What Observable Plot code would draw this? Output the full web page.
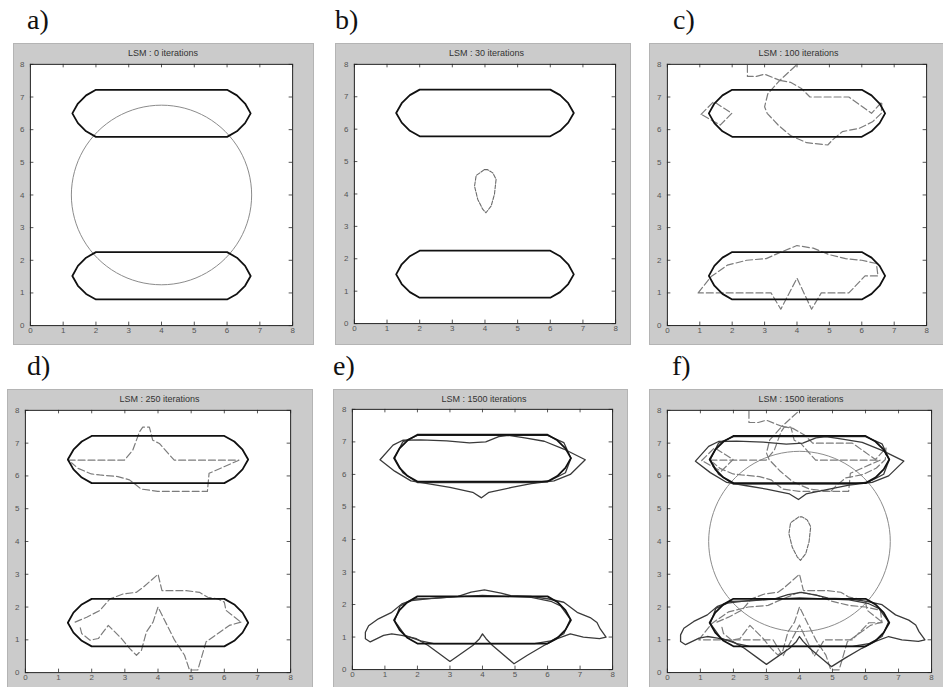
<!DOCTYPE html>
<html>
<head>
<meta charset="utf-8">
<script src="https://cdn.jsdelivr.net/npm/d3@7"></script>
<script src="https://cdn.jsdelivr.net/npm/@observablehq/plot@0.6"></script>
<style>
  body { margin: 0; background: #fff; }
  #fig { position: relative; width: 943px; height: 687px; overflow: hidden; background: #fff;
         font-family: "Liberation Sans", Arial, sans-serif; }
  .box { position: absolute; background: #cbcbcb; border: 1px solid #b4b4b4; box-sizing: border-box; }
  .box svg { position: absolute; left: -1px; top: -1px; }
  .title { position: absolute; font-size: 9px; line-height: 10px; color: #333; white-space: nowrap;
           transform: translateX(-50%); }
  .letter { position: absolute; font-family: "Liberation Serif", "Times New Roman", serif;
            font-size: 28px; line-height: 28px; color: #111; }
</style>
</head>
<body>
<div id="fig"></div>
<script>
// Panel letters and titles
const letters = ["a)", "b)", "c)", "d)", "e)", "f)"];
const titles = [
  "LSM : 0 iterations", "LSM : 30 iterations", "LSM : 100 iterations",
  "LSM : 250 iterations", "LSM : 1500 iterations", "LSM : 1500 iterations"
];
const axisTicks = [0, 1, 2, 3, 4, 5, 6, 7, 8];

// Target shapes: two capsules (x, y vertices)
const capsuleTop = [[2,7.22],[6,7.22],[6.3,7.05],[6.55,6.8],[6.72,6.5],[6.55,6.2],[6.3,5.95],[6,5.78],
  [2,5.78],[1.7,5.95],[1.45,6.2],[1.28,6.5],[1.45,6.8],[1.7,7.05],[2,7.22]];
const capsuleBottom = [[2,2.25],[6,2.25],[6.3,2.08],[6.55,1.83],[6.72,1.52],[6.55,1.22],[6.3,0.97],[6,0.8],
  [2,0.8],[1.7,0.97],[1.45,1.22],[1.28,1.52],[1.45,1.83],[1.7,2.08],[2,2.25]];

// Initial level set: circle around (4, 4)
const initialCircle = [[6.75,4],[6.656,4.712],[6.382,5.375],[5.945,5.945],[5.375,6.382],[4.712,6.656],
  [4,6.75],[3.288,6.656],[2.625,6.382],[2.055,5.945],[1.618,5.375],[1.344,4.712],[1.25,4],[1.344,3.288],
  [1.618,2.625],[2.055,2.055],[2.625,1.618],[3.288,1.344],[4,1.25],[4.712,1.344],[5.375,1.618],
  [5.945,2.055],[6.382,2.625],[6.656,3.288]];

// After 30 iterations
const blob30 = [[3.98,4.75],[3.73,4.57],[3.68,4.24],[3.78,3.83],[3.93,3.53],[4.03,3.42],[4.19,3.63],
  [4.29,3.99],[4.34,4.45],[4.24,4.65],[4.08,4.75],[3.98,4.75]];

// After 100 iterations
const c100TopLoop = [[3.47,7.51],[3.8,7.45],[4.15,7.25],[4.4,7.0],[5.6,7.0],[6.3,6.5],[6.62,6.85],
  [6.6,6.5],[6.33,6.24],[5.92,6.04],[5.4,5.94],[5.1,5.69],[4.95,5.53],[4.3,5.6],[3.8,5.82],[3.42,6.14],
  [3.08,6.5],[3.0,6.7],[3.1,7.1],[3.47,7.51]];
const c100TopTail = [[2.47,7.97],[2.47,7.63],[2.75,7.63],[3.0,7.7],[3.47,7.51],[3.98,7.98]];
const c100Diamond = [[1.04,6.47],[1.43,6.86],[1.99,6.5],[1.63,6.14],[1.04,6.47]];
const c100Bottom = [[0.95,1.0],[1.35,1.5],[1.85,1.85],[2.45,2.0],[3.05,2.05],[3.5,2.25],[4.0,2.45],
  [4.5,2.37],[5.0,2.17],[5.5,2.05],[6.0,2.0],[6.45,1.9],[6.5,1.52],[6.1,1.52],[5.6,1.0],[4.75,1.0],
  [4.45,0.5],[4.0,1.45],[3.5,0.5],[3.2,1.0],[0.95,1.0]];

// After 250 iterations
const d250Top = [[1.29,6.48],[2.99,6.48],[3.24,6.79],[3.44,7.34],[3.54,7.49],[3.74,7.49],[3.84,7.09],
  [4.04,6.99],[4.49,6.48],[6.44,6.48],[5.99,6.28],[5.54,6.08],[5.49,5.53],[3.99,5.53],[3.49,5.6],
  [3.14,5.88],[2.79,5.98],[2.24,6.03],[1.99,6.06],[1.59,6.23],[1.39,6.4]];
const d250BottomUpper = [[1.5,1.54],[1.85,1.69],[2.25,1.9],[2.55,2.25],[2.95,2.4],[3.35,2.45],[3.55,2.6],
  [4.0,3.0],[4.12,2.5],[4.85,2.5],[5.25,2.45],[5.5,2.3],[5.8,2.25],[6.0,2.15],[6.05,1.9],[6.25,1.74],
  [6.5,1.54]];
const d250BottomLower = [[6.5,1.54],[6.15,1.44],[5.45,0.94],[5.2,0.08],[4.95,0.08],[4.8,0.53],[4.5,0.99],
  [4.0,2.0],[3.85,1.54],[3.65,1.24],[3.5,0.68],[3.35,0.53],[3.15,0.73],[2.9,1.04],[2.5,1.44],[2.35,1.24],
  [2.2,1.04],[1.95,0.99],[1.7,1.19],[1.65,1.39]];

// After 1500 iterations
const e1500TopOuter = [[0.85,6.45],[1.25,6.9],[1.55,7.05],[2.1,7.06],[2.9,7.03],[3.6,6.97],[4.1,7.0],
  [4.5,7.16],[4.8,7.2],[5.3,7.12],[5.9,7.02],[6.5,6.78],[7.16,6.45],[6.7,6.0],[6.2,5.8],[5.5,5.72],
  [4.9,5.6],[4.2,5.45],[3.97,5.28],[3.7,5.45],[3.0,5.6],[2.4,5.7],[1.8,5.8],[1.3,6.1],[0.85,6.45]];
const e1500TopInner = [[1.3,6.5],[1.55,7.0],[2.0,7.2],[6.0,7.2],[6.5,6.98],[6.72,6.5],[6.55,6.05],
  [6.1,5.82],[5.6,5.75],[2.0,5.75],[1.55,6.05],[1.3,6.5]];
const e1500BottomOuter = [[0.4,0.95],[0.55,0.85],[0.96,1.05],[1.21,1.1],[1.52,1.05],[1.97,0.95],
  [2.33,0.74],[2.74,0.44],[3.0,0.25],[3.7,0.74],[3.91,0.95],[4.0,1.1],[4.11,0.95],[4.31,0.74],
  [4.97,0.18],[5.38,0.44],[5.89,0.74],[6.3,0.95],[6.7,1.1],[7.1,1.0],[7.6,0.95],[7.8,1.0],[7.62,1.25],
  [7.52,1.45],[7.31,1.6],[6.91,1.76],[6.5,2.07],[6.04,2.17],[5.48,2.25],[4.87,2.27],[4.57,2.35],
  [4.06,2.45],[3.65,2.38],[3.25,2.25],[2.53,2.19],[1.92,2.17],[1.52,2.02],[1.21,1.76],[0.8,1.56],
  [0.5,1.35],[0.4,1.15],[0.4,0.95]];
const e1500BottomInner = [[1.3,1.5],[1.47,1.96],[1.82,2.12],[2.5,2.2],[4.0,2.28],[5.5,2.22],[6.1,2.1],
  [6.4,1.96],[6.7,1.55],[6.5,1.1],[6.1,0.88],[5.6,0.8],[2.5,0.8],[2.1,0.88],[1.62,1.05],[1.3,1.5]];

// Page layout: grey figure box and inner axes box, in page pixels
const layout = [
  {box: [13, 43, 314, 345],  plot: [30, 64, 294, 327],  letter: [27, 6]},
  {box: [335, 43, 631, 345], plot: [354, 64, 617, 325], letter: [335, 6]},
  {box: [649, 43, 944, 345], plot: [667, 64, 928, 327], letter: [673, 6]},
  {box: [7, 389, 313, 700],  plot: [25, 410, 292, 674], letter: [27, 352]},
  {box: [333, 389, 628, 700],plot: [352, 409, 614, 671],letter: [333, 352]},
  {box: [649, 389, 944, 700],plot: [667, 410, 933, 674],letter: [672, 352]}
];

const styles = {
  capsule: {stroke: "#111", strokeWidth: 1.8},
  circle: {stroke: "#8a8a8a", strokeWidth: 1, curve: "catmull-rom-closed"},
  blob: {stroke: "#6a6a6a", strokeWidth: 1.1, strokeDasharray: "4,1.5"},
  dashed: {stroke: "#7c7c7c", strokeWidth: 1.2, strokeDasharray: "7,3"},
  solid: {stroke: "#3a3a3a", strokeWidth: 1.3}
};

const trace = (pts, style) => Plot.line(pts, {x: d => d[0], y: d => d[1], clip: true, ...style});

const layerA = [trace(initialCircle, styles.circle)];
const layerB = [trace(blob30, styles.blob)];
const layerC = [c100TopLoop, c100TopTail, c100Diamond, c100Bottom].map(p => trace(p, styles.dashed));
const layerD = [d250Top, d250BottomUpper, d250BottomLower].map(p => trace(p, styles.dashed));
const layerE = [e1500TopOuter, e1500TopInner, e1500BottomOuter, e1500BottomInner].map(p => trace(p, styles.solid));
const targets = [capsuleTop, capsuleBottom].map(p => trace(p, styles.capsule));

const panelLayers = [
  layerA, layerB, layerC, layerD, layerE,
  [...layerA, ...layerB, ...layerC, ...layerD, ...layerE]
];

const fig = document.getElementById("fig");

layout.forEach((L, i) => {
  const [bx0, by0, bx1, by1] = L.box;
  const [px0, py0, px1, py1] = L.plot;
  const W = bx1 - bx0, H = by1 - by0;
  const plotH = py1 - py0, plotW = px1 - px0;

  const box = document.createElement("div");
  box.className = "box";
  Object.assign(box.style, {left: bx0 + "px", top: by0 + "px", width: W + "px", height: H + "px"});

  const svg = Plot.plot({
    width: W, height: H,
    marginLeft: px0 - bx0, marginRight: bx1 - px1, marginTop: py0 - by0, marginBottom: by1 - py1,
    x: {domain: [0, 8]}, y: {domain: [0, 8]},
    style: {background: "transparent", fontFamily: "Liberation Sans, Arial, sans-serif", fontSize: "8px", color: "#555", overflow: "visible"},
    marks: [
      Plot.frame({fill: "white", stroke: "none"}),
      ...panelLayers[i],
      ...targets,
      // inward ticks on all four sides
      Plot.tickX(axisTicks, {x: d => d, insetTop: plotH - 3.5, stroke: "#555"}),
      Plot.tickX(axisTicks, {x: d => d, insetBottom: plotH - 3.5, stroke: "#555"}),
      Plot.tickY(axisTicks, {y: d => d, insetRight: plotW - 3.5, stroke: "#555"}),
      Plot.tickY(axisTicks, {y: d => d, insetLeft: plotW - 3.5, stroke: "#555"}),
      Plot.frame({stroke: "#222", strokeWidth: 1}),
      Plot.axisX({ticks: axisTicks, tickSize: 0, tickPadding: 2, tickFormat: d => String(d), fill: "#555"}),
      Plot.axisY({ticks: axisTicks, tickSize: 0, tickPadding: 6, tickFormat: d => String(d), fill: "#555"})
    ]
  });
  box.appendChild(svg);

  const title = document.createElement("div");
  title.className = "title";
  title.textContent = titles[i];
  Object.assign(title.style, {left: ((px0 + px1) / 2 - bx0) + "px", top: "4px"});
  box.appendChild(title);
  fig.appendChild(box);

  const letter = document.createElement("div");
  letter.className = "letter";
  letter.textContent = letters[i];
  Object.assign(letter.style, {left: L.letter[0] + "px", top: L.letter[1] + "px"});
  fig.appendChild(letter);
});
</script>
</body>
</html>
